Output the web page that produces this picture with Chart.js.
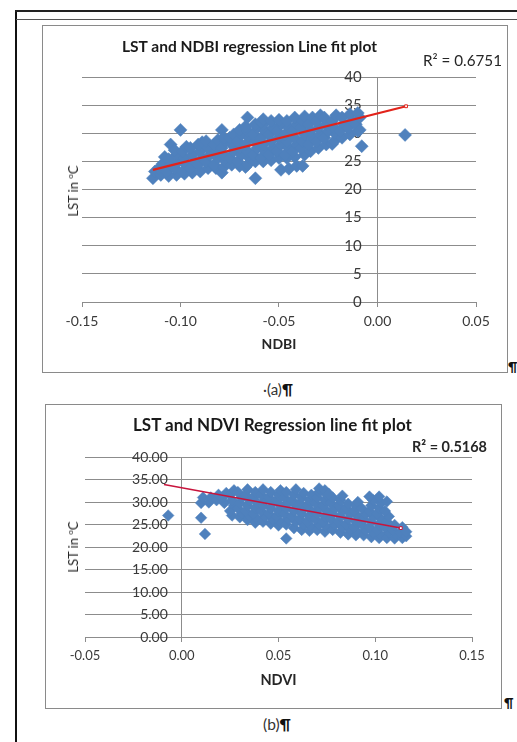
<!DOCTYPE html>
<html>
<head>
<meta charset="utf-8">
<script src="https://cdn.jsdelivr.net/npm/chart.js@4.4.1/dist/chart.umd.min.js"></script>
<style>
  html,body{margin:0;padding:0;background:#fff;}
  body{width:517px;height:742px;position:relative;overflow:hidden;font-family:Lato,"Open Sans",sans-serif;color:#1a1a1a;}
  .abs{position:absolute;}
  .box{position:absolute;border:1.5px solid #8a8a8a;box-sizing:border-box;}
  .t{position:absolute;white-space:nowrap;line-height:1;transform:translateY(-50%);}
  .ttl{font-weight:bold;font-size:14px;color:#1a1a1a;}
  .ytitle{position:absolute;font-size:13px;line-height:1;white-space:nowrap;transform:translate(-50%,-50%) rotate(-90deg);color:#262626;}
  .ytitle sup{font-size:8px;vertical-align:5px;}
  .r2{font-size:13px;color:#262626;}
  .cap{font-size:13px;color:#333;}
  .pil{font-weight:bold;color:#111;}
</style>
</head>
<body>
<!-- page frame -->
<div class="abs" style="left:15px;top:10px;width:2px;height:732px;background:#111;"></div>
<div class="abs" style="left:15px;top:10px;width:502px;height:1.5px;background:#222;"></div>
<div class="abs" style="left:16px;top:18.5px;width:501px;height:1.5px;background:#555;"></div>

<!-- chart (a) -->
<div class="box" style="left:42px;top:25px;width:466px;height:348px;"></div>
<canvas id="chartA" class="abs" style="left:42px;top:25px;" width="466" height="348"></canvas>
<div class="t ttl" data-w="255" style="left:122px;top:47px;">LST and NDBI regression Line fit plot</div>
<div class="t r2" data-w="79" style="left:423px;top:61px;">R² = 0.6751</div>
<div class="ytitle" style="left:73px;top:191px;">LST in <sup>o</sup>C</div>
<div class="t pil" style="left:508px;top:367px;font-size:13px;">¶</div>
<div class="t cap" data-w="30" style="left:263px;top:390px;">·(a)<span class="pil">¶</span></div>

<!-- chart (b) -->
<div class="box" style="left:45px;top:404px;width:457px;height:305px;"></div>
<canvas id="chartB" class="abs" style="left:45px;top:404px;" width="457" height="305"></canvas>
<div class="t ttl" data-w="279" style="left:133px;top:425px;">LST and NDVI Regression line fit plot</div>
<div class="t r2" data-w="75" style="left:412px;top:447px;font-weight:bold;">R² = 0.5168</div>
<div class="ytitle" style="left:73px;top:547px;">LST in <sup>o</sup>C</div>
<div class="t pil" style="left:504px;top:703px;font-size:13px;">¶</div>
<div class="t cap" data-w="28" style="left:263px;top:725px;">(b)<span class="pil">¶</span></div>

<script>
// NDBI vs LST scatter [ndbi, lst]
const ndbiPoints = [
  [-0.114,22.0],[-0.113,23.2],
  [-0.110,22.6],[-0.111,23.8],[-0.109,24.6],[-0.108,25.8],
  [-0.106,22.4],[-0.107,23.2],[-0.105,24.4],[-0.106,25.4],[-0.105,28.0],
  [-0.102,22.6],[-0.103,23.8],[-0.101,25.0],[-0.102,26.2],[-0.103,27.0],
  [-0.100,30.6],
  [-0.098,22.8],[-0.099,23.2],[-0.097,24.4],[-0.098,25.6],[-0.099,26.8],[-0.097,27.6],
  [-0.094,23.0],[-0.095,23.8],[-0.093,25.0],[-0.094,26.2],[-0.095,27.4],
  [-0.090,23.2],[-0.091,24.4],[-0.089,25.6],[-0.090,26.8],[-0.091,28.0],[-0.089,28.4],
  [-0.086,23.8],[-0.087,25.0],[-0.085,26.2],[-0.086,27.4],[-0.087,28.6],
  [-0.082,23.8],[-0.083,24.4],[-0.081,25.6],[-0.082,26.8],[-0.083,28.0],[-0.081,28.8],
  [-0.079,23.0],[-0.079,30.6],
  [-0.078,24.0],[-0.077,25.0],[-0.078,26.2],[-0.079,27.4],[-0.077,28.6],[-0.078,29.2],
  [-0.074,24.4],[-0.075,25.6],[-0.073,26.8],[-0.074,28.0],[-0.075,29.2],[-0.073,29.8],
  [-0.070,24.2],[-0.071,25.0],[-0.069,26.2],[-0.070,27.4],[-0.071,28.6],[-0.069,29.8],[-0.070,30.6],
  [-0.067,24.0],[-0.066,24.4],[-0.065,25.6],[-0.066,26.8],[-0.067,28.0],[-0.065,29.2],[-0.066,30.4],[-0.067,31.2],[-0.066,32.8],
  [-0.062,22.0],[-0.062,25.0],[-0.063,26.2],[-0.061,27.4],[-0.062,28.6],[-0.063,29.8],[-0.061,31.0],[-0.062,31.6],
  [-0.058,25.0],[-0.059,25.6],[-0.057,26.8],[-0.058,28.0],[-0.059,29.2],[-0.057,30.4],[-0.058,31.6],[-0.059,32.0],[-0.058,32.5],
  [-0.054,25.2],[-0.055,26.2],[-0.053,27.4],[-0.054,28.6],[-0.055,29.8],[-0.053,31.0],[-0.054,32.2],
  [-0.050,25.6],[-0.051,26.8],[-0.049,28.0],[-0.050,29.2],[-0.051,30.4],[-0.049,31.6],[-0.050,32.4],[-0.049,23.5],
  [-0.046,25.6],[-0.047,26.2],[-0.045,27.4],[-0.046,28.6],[-0.047,29.8],[-0.045,31.0],[-0.046,32.2],[-0.045,23.7],
  [-0.042,25.8],[-0.043,26.8],[-0.041,28.0],[-0.042,29.2],[-0.043,30.4],[-0.041,31.6],[-0.042,32.8],[-0.041,24.2],
  [-0.038,24.2],[-0.037,26.2],[-0.039,27.4],[-0.038,28.6],[-0.037,29.8],[-0.039,31.0],[-0.038,32.2],[-0.037,33.0],
  [-0.034,26.8],[-0.035,28.0],[-0.033,29.2],[-0.034,30.4],[-0.035,31.6],[-0.033,32.8],
  [-0.030,27.4],[-0.031,28.6],[-0.029,29.8],[-0.030,31.0],[-0.031,32.2],[-0.029,33.2],
  [-0.026,28.0],[-0.027,29.2],[-0.025,30.4],[-0.026,31.6],[-0.027,32.8],
  [-0.023,28.1],[-0.022,28.6],[-0.021,29.8],[-0.022,31.0],[-0.023,32.2],[-0.021,33.2],
  [-0.018,29.2],[-0.019,30.4],[-0.017,31.6],[-0.018,32.8],
  [-0.014,29.8],[-0.015,31.0],[-0.013,32.2],[-0.014,33.4],
  [-0.010,30.4],[-0.011,31.6],[-0.009,32.8],[-0.010,33.6],[-0.009,30.6],[-0.008,27.7],
  [0.014,29.7]
];
const ndbiFitX = [-0.114, 0.0145];
const ndbiFitY = [23.5, 34.8];

// NDVI vs LST scatter [ndvi, lst]
const ndviPoints = [
  [-0.007,27.0],[0.010,26.5],[0.012,22.9],
  [0.010,29.8],[0.011,31.0],
  [0.014,29.9],[0.015,31.0],
  [0.018,30.4],[0.019,31.6],
  [0.022,29.8],[0.021,31.0],[0.023,32.0],
  [0.026,27.0],[0.025,28.0],[0.027,29.2],[0.026,30.4],[0.025,31.6],[0.027,32.6],
  [0.030,26.6],[0.031,27.4],[0.029,28.6],[0.030,29.8],[0.031,31.0],[0.029,32.2],
  [0.034,26.0],[0.035,26.8],[0.033,28.0],[0.034,29.2],[0.035,30.4],[0.033,31.6],[0.034,32.8],
  [0.038,25.4],[0.039,26.2],[0.037,27.4],[0.038,28.6],[0.039,29.8],[0.037,31.0],[0.038,32.2],
  [0.042,25.6],[0.043,26.8],[0.041,28.0],[0.042,29.2],[0.043,30.4],[0.041,31.6],[0.042,32.8],
  [0.046,25.2],[0.047,26.2],[0.045,27.4],[0.046,28.6],[0.047,29.8],[0.045,31.0],[0.046,32.2],
  [0.050,24.8],[0.051,25.6],[0.049,26.8],[0.050,28.0],[0.051,29.2],[0.049,30.4],[0.050,31.6],[0.051,32.6],
  [0.054,21.9],[0.054,25.0],[0.055,26.2],[0.053,27.4],[0.054,28.6],[0.055,29.8],[0.053,31.0],[0.054,32.2],
  [0.058,24.2],[0.059,25.6],[0.057,26.8],[0.058,28.0],[0.059,29.2],[0.057,30.4],[0.058,31.6],[0.059,32.8],
  [0.062,23.8],[0.063,25.0],[0.061,26.2],[0.062,27.4],[0.063,28.6],[0.061,29.8],[0.062,31.0],[0.063,32.0],
  [0.066,23.6],[0.067,24.4],[0.065,25.6],[0.066,26.8],[0.067,28.0],[0.065,29.2],[0.066,30.4],[0.067,31.6],
  [0.070,23.8],[0.071,25.0],[0.069,26.2],[0.070,27.4],[0.071,28.6],[0.069,29.8],[0.070,31.0],[0.071,32.2],[0.071,33.0],
  [0.074,23.4],[0.075,24.4],[0.073,25.6],[0.074,26.8],[0.075,28.0],[0.073,29.2],[0.074,30.4],[0.075,31.6],[0.074,32.6],
  [0.078,23.8],[0.079,25.0],[0.077,26.2],[0.078,27.4],[0.079,28.6],[0.077,29.8],[0.078,31.0],[0.076,31.8],
  [0.082,23.2],[0.083,24.4],[0.081,25.6],[0.082,26.8],[0.083,28.0],[0.081,29.2],[0.082,30.4],[0.083,31.4],
  [0.086,22.8],[0.087,23.8],[0.085,25.0],[0.086,26.2],[0.087,27.4],[0.085,28.6],[0.086,29.6],
  [0.090,22.6],[0.091,23.2],[0.089,24.4],[0.090,25.6],[0.091,26.8],[0.089,28.0],[0.090,29.2],[0.091,30.0],
  [0.094,22.6],[0.095,23.8],[0.093,25.0],[0.094,26.2],[0.095,27.4],[0.093,28.6],
  [0.098,22.2],[0.099,23.2],[0.097,24.4],[0.098,25.6],[0.099,26.8],[0.097,28.0],[0.098,29.2],[0.099,30.4],[0.097,31.2],
  [0.102,22.0],[0.103,22.6],[0.101,23.8],[0.102,25.0],[0.103,26.2],[0.101,27.4],[0.102,28.6],[0.103,29.8],[0.102,31.2],
  [0.106,22.0],[0.107,23.2],[0.105,24.4],[0.106,25.6],[0.107,26.8],[0.105,28.0],[0.106,30.1],
  [0.110,21.9],[0.111,22.6],[0.109,23.8],[0.110,24.9],
  [0.114,22.0],[0.113,23.2],[0.114,24.4],
  [0.116,22.4],[0.116,23.4]
];
const ndviFitX = [-0.0092, 0.1132];
const ndviFitY = [33.9, 24.2];

// axis ranges [min, max, step]
const ndbiAxis = [-0.15, 0.05, 0.05];
const ndviAxis = [-0.05, 0.15, 0.05];
const lstAxis = [0, 40, 5];

// scale the html labels so they take the same width as in the scan
document.querySelectorAll('[data-w]').forEach(el => {
  const w = el.getBoundingClientRect().width;
  const fs = parseFloat(getComputedStyle(el).fontSize);
  el.style.fontSize = (fs * Number(el.dataset.w) / w).toFixed(2) + 'px';
});

Chart.defaults.font.family = 'Lato, "Open Sans", sans-serif';
Chart.defaults.color = '#3a3a3a';

const GRID = '#8c8c8c';
const BLUE = '#4F81BD';

function toXY(arr){ return arr.map(p => ({x: p[0], y: p[1]})); }
function fitXY(xs, ys){ return xs.map((x,i) => ({x: x, y: ys[i]})); }

function makeChart(id, o){
  return new Chart(document.getElementById(id), {
    type: 'scatter',
    data: {
      datasets: [
        {
          data: fitXY(o.fitX, o.fitY), showLine: true, order: 0,
          borderColor: o.lineColor, borderWidth: o.lineWidth,
          pointRadius: [0, 2], pointStyle: 'rect',
          pointBackgroundColor: '#fff', pointBorderColor: o.lineColor, pointBorderWidth: 1
        },
        {
          data: toXY(o.points), order: 1,
          pointStyle: 'rectRot', pointRadius: o.radius,
          backgroundColor: BLUE, borderColor: BLUE, borderWidth: 0.5
        }
      ]
    },
    options: {
      responsive: false, animation: false, devicePixelRatio: 1,
      layout: {padding: o.pad},
      plugins: {legend: {display: false}, tooltip: {enabled: false}},
      scales: {
        x: {
          type: 'linear', position: 'bottom',
          min: o.xAxis[0], max: o.xAxis[1],
          afterFit: s => { s.height = 60; },
          ticks: {stepSize: o.xAxis[2], padding: 6, font: {size: o.xTickSize},
            callback: v => Number(v).toFixed(2)},
          // only the zero line is drawn across the plot: it is the value axis
          grid: {drawOnChartArea: true, drawTicks: true, tickLength: 5, tickColor: GRID,
            color: c => (c.tick && Math.abs(c.tick.value) < 1e-9) ? GRID : 'rgba(0,0,0,0)'},
          border: {display: true, color: GRID, width: 1},
          title: {display: true, text: o.xTitle, color: '#262626',
            font: {size: o.xTitleSize, weight: 'bold'}, padding: {top: 0, bottom: o.xTitlePad}}
        },
        y: {
          type: 'linear', position: {x: o.yLabelAt},
          min: lstAxis[0], max: lstAxis[1],
          ticks: {stepSize: lstAxis[2], font: {size: o.yTickSize}, callback: o.yFmt},
          grid: {drawTicks: false, color: GRID, lineWidth: 1},
          border: {display: false}
        }
      }
    }
  });
}

makeChart('chartA', {
  points: ndbiPoints, fitX: ndbiFitX, fitY: ndbiFitY,
  lineColor: '#E2231A', lineWidth: 2.2, radius: 6.5,
  pad: {left: 40, right: 32, top: 52, bottom: 11},
  xAxis: ndbiAxis, xTitle: 'NDBI', xTitleSize: 14, xTitlePad: 9, xTickSize: 14, yTickSize: 15,
  yLabelAt: -0.008, yFmt: v => String(v)
});

makeChart('chartB', {
  points: ndviPoints, fitX: ndviFitX, fitY: ndviFitY,
  lineColor: '#C8143C', lineWidth: 1.5, radius: 5.8,
  pad: {left: 40, right: 30, top: 53, bottom: 12},
  xAxis: ndviAxis, xTitle: 'NDVI', xTitleSize: 14.5, xTitlePad: 8, xTickSize: 13, yTickSize: 14,
  yLabelAt: -0.0072, yFmt: v => Number(v).toFixed(2)
});
</script>
</body>
</html>
